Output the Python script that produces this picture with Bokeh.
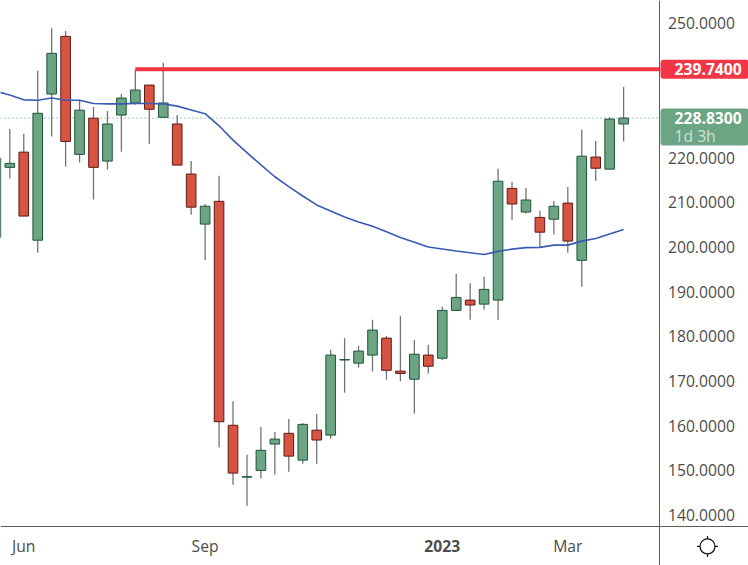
import pandas as pd
from bokeh.embed import file_html
from bokeh.resources import INLINE
from bokeh.plotting import figure
from bokeh.models import (ColumnDataSource, FixedTicker, Label, LinearAxis, NumeralTickFormatter,
                          Range1d, DatetimeAxis)

dates = ["2022-05-23","2022-05-30","2022-06-06","2022-06-13","2022-06-20","2022-06-27","2022-07-04","2022-07-11",
         "2022-07-18","2022-07-25","2022-08-01","2022-08-08","2022-08-15","2022-08-22","2022-08-29","2022-09-05",
         "2022-09-12","2022-09-19","2022-09-26","2022-10-03","2022-10-10","2022-10-17","2022-10-24","2022-10-31",
         "2022-11-07","2022-11-14","2022-11-21","2022-11-28","2022-12-05","2022-12-12","2022-12-19","2022-12-26",
         "2023-01-02","2023-01-09","2023-01-16","2023-01-23","2023-01-30","2023-02-06","2023-02-13","2023-02-20",
         "2023-02-27","2023-03-06","2023-03-13","2023-03-20","2023-03-27","2023-04-03"]
opens = [202.1,217.8,221.2,201.5,234.2,247.1,220.7,228.8,219.2,229.5,232.2,236.2,229.0,227.5,216.3,205.1,
         210.2,160.1,148.5,150.0,155.9,158.3,152.3,159.0,157.9,174.7,174.0,175.8,179.6,172.2,170.4,175.8,
         175.1,185.8,188.1,187.2,188.1,213.1,207.8,206.6,206.2,209.8,197.0,220.1,217.4,227.5]
highs = [221.7,226.4,225.3,239.4,248.9,248.3,233.0,231.3,230.4,234.2,239.7,236.2,241.2,229.5,219.2,209.6,
         215.9,165.5,153.5,159.7,158.6,161.5,160.6,162.6,177.0,179.6,177.9,183.7,180.1,184.6,179.2,178.1,
         186.6,194.0,191.9,193.3,217.5,214.5,213.2,208.1,210.3,213.4,226.2,223.7,229.0,235.8]
lows = [202.0,215.3,206.9,198.7,224.7,218.0,218.9,210.6,217.3,221.3,231.8,223.1,229.0,218.3,207.2,197.1,
        155.1,146.8,142.1,148.2,149.1,149.7,151.5,151.5,157.1,167.4,173.0,172.1,170.3,169.9,162.7,171.7,
        174.7,185.7,183.7,186.0,183.7,206.1,207.5,200.0,202.8,198.7,191.1,214.8,217.4,223.6]
closes = [219.9,218.7,206.9,229.9,243.3,223.6,230.6,217.8,227.5,233.3,235.1,230.8,232.2,218.3,208.9,209.1,
          160.9,149.4,148.6,154.5,157.0,153.2,160.3,156.8,175.8,174.8,176.7,181.4,172.4,171.7,176.0,173.3,
          185.8,188.7,187.0,190.5,214.7,209.6,210.5,203.3,209.1,201.3,220.3,217.6,228.6,228.83]
ma_values = [234.8,234.0,232.9,232.8,233.3,232.8,232.8,232.1,232.0,232.0,232.1,232.1,232.0,231.5,230.65,229.8,
             227.1,223.9,221.1,218.35,215.7,213.5,211.4,209.4,208.05,206.7,205.6,204.6,203.4,202.1,201.05,200.0,
             199.55,199.1,198.7,198.3,199.0,199.5,199.85,199.9,200.4,200.4,201.3,201.9,202.9,203.9]
price_ticks = [250,220,210,200,190,180,170,160,150,140]
month_ticks = ["2022-06-06", "2022-09-05", "2023-03-06"]
month_labels = ["Jun", "Sep", "Mar"]
year_ticks = ["2023-01-02"]
year_labels = ["2023"]
level_price = 239.74
level_start = "2022-08-01"
last_price = 228.83

GREEN, GREEN_EDGE = "#6BA583", "#1F5539"
RED, RED_EDGE = "#D75442", "#5B1A13"
WICK = "#737375"
AXIS = "#5D5D5D"
TEXT = "#4C4C4C"
ICON = "#131722"
FONT = "Open Sans"
FS = "15.7px"


def ms(d):
    return pd.Timestamp(d).timestamp() * 1000


t = pd.to_datetime(dates)
is_up = [c >= o for o, c in zip(opens, closes)]
src = ColumnDataSource(dict(
    t=t, o=opens, h=highs, l=lows, c=closes,
    fill=[GREEN if u else RED for u in is_up],
    edge=[GREEN_EDGE if u else RED_EDGE for u in is_up],
))

first = pd.Timestamp("2022-05-30")
x_start = first - pd.Timedelta(days=4.67)
x_end = first + pd.Timedelta(days=370.67)
axis_x = first + pd.Timedelta(days=326.2)
axis_y = 137.41
p = figure(width=748, height=565, output_backend="svg", toolbar_location=None,
           x_axis_type=None, y_axis_type=None,
           x_range=Range1d(x_start, x_end),
           y_range=Range1d(128.73, 255.127),
           min_border_left=0, min_border_top=0, min_border_right=0, min_border_bottom=0,
           outline_line_color=None, background_fill_color="white", border_fill_color="white")
p.grid.visible = False

xaxis = DatetimeAxis(ticker=FixedTicker(ticks=[ms(d) for d in month_ticks]),
                     major_label_overrides={ms(d): s for d, s in zip(month_ticks, month_labels)},
                     fixed_location=axis_y,
                     major_tick_line_color=None, minor_tick_line_color=None,
                     axis_line_color=AXIS, axis_line_width=1,
                     major_label_text_font=FONT, major_label_text_font_size=FS,
                     major_label_text_color=TEXT, major_label_standoff=-36)
p.add_layout(xaxis, "above")
xaxis_year = DatetimeAxis(ticker=FixedTicker(ticks=[ms(d) for d in year_ticks]),
                          major_label_overrides={ms(d): s for d, s in zip(year_ticks, year_labels)},
                          fixed_location=axis_y,
                          major_tick_line_color=None, minor_tick_line_color=None,
                          axis_line_color=None,
                          major_label_text_font=FONT, major_label_text_font_size=FS,
                          major_label_text_font_style="bold",
                          major_label_text_color=TEXT, major_label_standoff=-31)
p.add_layout(xaxis_year, "above")

yaxis = LinearAxis(ticker=FixedTicker(ticks=price_ticks), formatter=NumeralTickFormatter(format="0.0000"),
                   fixed_location=axis_x.timestamp() * 1000,
                   major_tick_line_color=None, minor_tick_line_color=None,
                   axis_line_color=AXIS, axis_line_width=1,
                   major_label_text_font=FONT, major_label_text_font_size=FS,
                   major_label_text_color=TEXT, major_label_standoff=-81)
p.add_layout(yaxis, "left")

p.segment([x_start], [last_price], [axis_x], [last_price], line_color="#4F8F6C", line_width=1, line_dash="1 3")

p.segment("t", "h", "t", "l", source=src, line_color=WICK, line_width=1.3)
body = 9.6 / 13.95 * 7 * 24 * 3600 * 1000
p.vbar("t", body, "o", "c", source=src, fill_color="fill", line_color="edge", line_width=1)
p.line(t, ma_values, line_color="#3A5BB5", line_width=1.6)

p.segment([pd.Timestamp(level_start)], [level_price], [axis_x], [level_price],
          line_color="#F23645", line_width=4)

p.add_layout(Label(x=660, y=level_price, x_units="screen", text="239.7400", text_baseline="middle",
                   text_color="white", text_font=FONT, text_font_size=FS, text_font_style="bold",
                   background_fill_color="#F23645", border_radius=3, padding=(14, 7, 3, 4)))
p.add_layout(Label(x=660, y=226.83, x_units="screen", text="228.8300", text_baseline="middle",
                   text_color="white", text_font=FONT, text_font_size=FS, text_font_style="bold",
                   background_fill_color=GREEN, border_radius=3, padding=(14, 7, 4, 21)))
p.add_layout(Label(x=674, y=224.9, x_units="screen", text="1d 3h", text_baseline="middle",
                   text_color="#CFE1D6", text_font=FONT, text_font_size=FS))

# settings icon at the bottom right corner of the chart
icon_x = [first + pd.Timedelta(days=350.1)]
icon_y = [133.0]
p.scatter(icon_x, icon_y, marker="cross", size=21, line_color=ICON, line_width=1.2, fill_color=None)
p.scatter(icon_x, icon_y, marker="x", size=16, line_color=ICON, line_width=1.2, fill_color=None)
p.scatter(icon_x, icon_y, marker="circle", size=15, line_color=ICON, line_width=1.3, fill_color="white")

open("out.html", "w").write(file_html(p, INLINE))
